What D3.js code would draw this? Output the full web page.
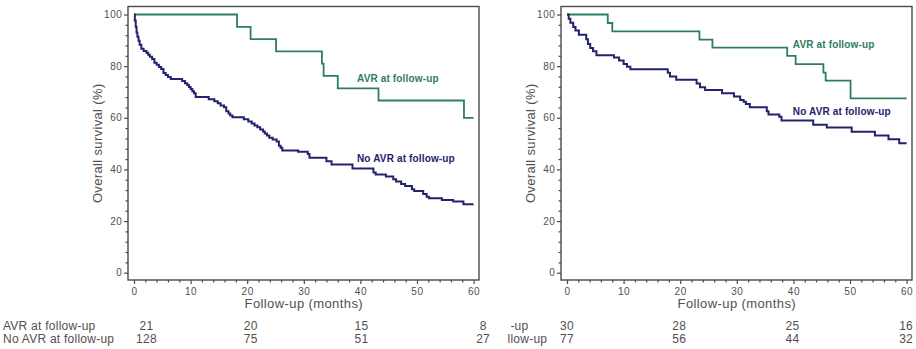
<!DOCTYPE html>
<html>
<head>
<meta charset="utf-8">
<script src="https://cdn.jsdelivr.net/npm/d3@7"></script>
<style>
  body { margin: 0; background: #fff; }
  svg { display: block; font-family: Arial, "Liberation Sans", sans-serif; }
</style>
</head>
<body>
<svg id="chart" width="916" height="349"></svg>
<script>
// ---- data -------------------------------------------------------------
const monthTicks = [0, 10, 20, 30, 40, 50, 60];
const survivalTicks = [0, 20, 40, 60, 80, 100];
const riskTimes = [0, 20, 40, 60];
const groupNames = ["AVR at follow-up", "No AVR at follow-up"];
const followUpEnd = 60;

// Kaplan-Meier steps: [month, survival % after the event]
const leftAvr = [[0,100],[18.2,95.2],[20.6,90.5],[25.1,85.7],[33.2,81.0],[33.5,76.2],[36.0,71.4],[43.2,66.7],[58.3,60.0]];
const leftNoAvr = [[0,100],[0.15,97.7],[0.3,95.3],[0.45,93.0],[0.6,91.4],[0.8,89.8],[1.0,88.3],[1.3,86.7],[1.7,85.9],
  [2.2,85.2],[2.5,84.4],[2.8,83.6],[3.2,82.8],[3.6,81.3],[4.0,80.5],[4.4,79.7],[4.8,78.9],[5.2,77.3],[5.6,76.6],
  [6.0,75.8],[6.5,75.0],[8.5,74.2],[9.0,73.4],[9.4,72.7],[9.7,71.9],[10.0,71.1],[10.3,70.3],[10.6,69.5],[10.9,68.0],
  [13.2,67.2],[14.2,66.4],[14.8,65.6],[15.3,64.8],[15.9,64.1],[16.3,62.5],[16.7,61.7],[17.0,60.9],[17.4,60.2],
  [19.4,59.4],[20.2,58.6],[20.8,57.8],[21.3,57.0],[21.8,56.3],[22.3,55.5],[22.8,54.7],[23.1,53.9],[23.5,53.1],
  [23.9,52.3],[24.5,51.6],[25.2,50.8],[25.6,49.2],[25.9,48.4],[26.2,47.3],[29.0,46.8],[30.7,46.0],[31.0,44.5],
  [34.0,43.2],[34.9,41.9],[38.6,40.4],[42.3,38.8],[42.7,38.0],[44.5,37.3],[45.8,36.2],[46.3,35.3],[47.2,34.4],
  [47.9,33.6],[49.1,32.3],[49.5,31.6],[51.1,30.5],[51.7,29.4],[52.1,28.8],[54.4,28.2],[56.4,27.6],[58.2,26.5]];
const leftRiskAvr = [21, 20, 15, 8];
const leftRiskNoAvr = [128, 75, 51, 27];

const rightAvr = [[0,100],[7.2,96.7],[8.0,93.5],[23.4,90.3],[25.7,87.2],[38.9,84.0],[40.4,80.8],[45.3,77.5],[45.7,74.4],[50.1,67.5]];
const rightNoAvr = [[0,100],[0.3,98.4],[0.6,96.8],[1.1,95.2],[1.5,93.8],[2.1,92.2],[3.4,90.4],[3.7,88.6],[4.1,87.0],
  [4.6,85.8],[5.2,84.2],[8.3,83.3],[9.2,82.2],[10.0,80.8],[10.6,79.8],[11.2,78.8],[17.8,77.4],[18.2,76.0],[19.3,74.7],
  [22.9,73.3],[23.5,71.8],[24.4,70.8],[27.4,69.5],[29.5,68.2],[30.6,66.9],[31.2,66.2],[31.6,65.3],[32.3,64.1],
  [35.3,62.5],[35.6,61.3],[37.5,60.4],[37.9,58.9],[43.5,57.3],[45.9,56.2],[50.3,54.6],[54.4,53.1],[56.8,51.7],[58.7,50.1]];
const rightRiskAvr = [30, 28, 25, 16];
const rightRiskNoAvr = [77, 56, 44, 32];

// ---- layout -----------------------------------------------------------
const colors = { avr: "#2f7d5f", noAvr: "#22226e", axis: "#4a4a4a", text: "#505050" };
const frameTop = 6.5, frameBottom = 280;

// cutFrom: the right panel's row captions are cut off at this x (it sits over the left panel's table)
const panels = [
  { ox: 128, avr: leftAvr, noAvr: leftNoAvr, riskAvr: leftRiskAvr, riskNoAvr: leftRiskNoAvr,
    avrLabel: [39.4, 75.4], noAvrLabel: [39.4, 44.2], riskNudge: [12.5, 3.5, 1, 9.5], cutFrom: 0 },
  { ox: 561, avr: rightAvr, noAvr: rightNoAvr, riskAvr: rightRiskAvr, riskNoAvr: rightRiskNoAvr,
    avrLabel: [39.9, 88.5], noAvrLabel: [39.9, 62.4], riskNudge: [0, -1, -1, -0.5], cutFrom: 507 }
];

const svg = d3.select("#chart");
const range = (a, b, s) => d3.range(a, b + s / 2, s);

panels.forEach((p) => {
  const g = svg.append("g");

  const x = d3.scaleLinear().domain([0, followUpEnd]).range([p.ox + 6, p.ox + 345.6]);
  const y = d3.scaleLinear().domain([0, 100]).range([272.7, 14.5]);

  // frame
  g.append("rect")
    .attr("x", p.ox).attr("y", frameTop)
    .attr("width", 351).attr("height", frameBottom - frameTop)
    .attr("fill", "none").attr("stroke", colors.axis).attr("stroke-width", 1.4);

  // y axis: minor then major ticks
  const yMinor = g.append("g").attr("transform", `translate(${p.ox},0)`)
    .call(d3.axisLeft(y).tickValues(range(0, 100, 4).filter(v => v % 20 !== 0)).tickSize(2.5).tickFormat(""));
  const yMajor = g.append("g").attr("transform", `translate(${p.ox},0)`)
    .call(d3.axisLeft(y).tickValues(survivalTicks).tickSize(4).tickPadding(1.5));
  // x axis
  const xMinor = g.append("g").attr("transform", `translate(0,${frameBottom})`)
    .call(d3.axisBottom(x).tickValues(range(0, 60, 2).filter(v => v % 10 !== 0)).tickSize(2.5).tickFormat(""));
  const xMajor = g.append("g").attr("transform", `translate(0,${frameBottom})`)
    .call(d3.axisBottom(x).tickValues(monthTicks).tickSize(4).tickPadding(3.5));

  [yMinor, yMajor, xMinor, xMajor].forEach(a => {
    a.select(".domain").remove();
    a.selectAll(".tick line").attr("stroke", colors.axis).attr("stroke-width", 1.2);
    a.selectAll(".tick text").attr("fill", colors.text)
      .style("font-family", "Arial, 'Liberation Sans', sans-serif")
      .style("font-size", "10px").style("letter-spacing", "0.6px");
  });

  // axis titles
  g.append("text")
    .attr("transform", `translate(${p.ox - 31},${(frameTop + frameBottom) / 2}) rotate(-90)`)
    .attr("text-anchor", "middle").attr("dy", "0.35em")
    .attr("fill", colors.text).style("font-size", "13px").style("letter-spacing", "0.35px")
    .text("Overall survival (%)");
  g.append("text")
    .attr("x", (x(0) + x(followUpEnd)) / 2).attr("y", 307.5)
    .attr("text-anchor", "middle")
    .attr("fill", colors.text).style("font-size", "13px").style("letter-spacing", "0.4px")
    .text("Follow-up (months)");

  // survival curves
  const line = d3.line().x(d => x(d[0])).y(d => y(d[1])).curve(d3.curveStepAfter);
  const withEnd = s => s.concat([[followUpEnd, s[s.length - 1][1]]]);
  g.append("path").attr("d", line(withEnd(p.avr)))
    .attr("fill", "none").attr("stroke", colors.avr).attr("stroke-width", 1.8);
  g.append("path").attr("d", line(withEnd(p.noAvr)))
    .attr("fill", "none").attr("stroke", colors.noAvr).attr("stroke-width", 2);

  // curve labels
  [[groupNames[0], p.avrLabel, colors.avr], [groupNames[1], p.noAvrLabel, colors.noAvr]].forEach(([name, pos, c]) => {
    g.append("text")
      .attr("x", x(pos[0])).attr("y", y(pos[1])).attr("dy", "0.35em")
      .attr("fill", c).style("font-size", "10px").style("font-weight", "bold").style("letter-spacing", "0.15px")
      .text(name);
  });

  // number at risk
  const rows = [[groupNames[0], p.riskAvr, 330], [groupNames[1], p.riskNoAvr, 343]];
  rows.forEach(([name, counts, yy]) => {
    const caption = g.append("text").attr("x", p.ox - 125).attr("y", yy)
      .attr("fill", colors.text).style("font-size", "12px").style("letter-spacing", "0.25px")
      .text(name);
    if (p.cutFrom > 0) {
      // keep only the characters that start right of the cut line
      const node = caption.node();
      let k = 0;
      while (k < name.length && node.getStartPositionOfChar(k).x < p.cutFrom) k++;
      const startX = node.getStartPositionOfChar(Math.min(k, name.length - 1)).x;
      caption.attr("x", startX).text(name.slice(k));
    }
    g.selectAll(null).data(riskTimes).join("text")
      .attr("x", (t, k) => x(t) + p.riskNudge[k]).attr("y", yy)
      .attr("text-anchor", "middle")
      .attr("fill", colors.text).style("font-size", "12px").style("letter-spacing", "0.25px")
      .text((t, k) => counts[k]);
  });
});
</script>
</body>
</html>
